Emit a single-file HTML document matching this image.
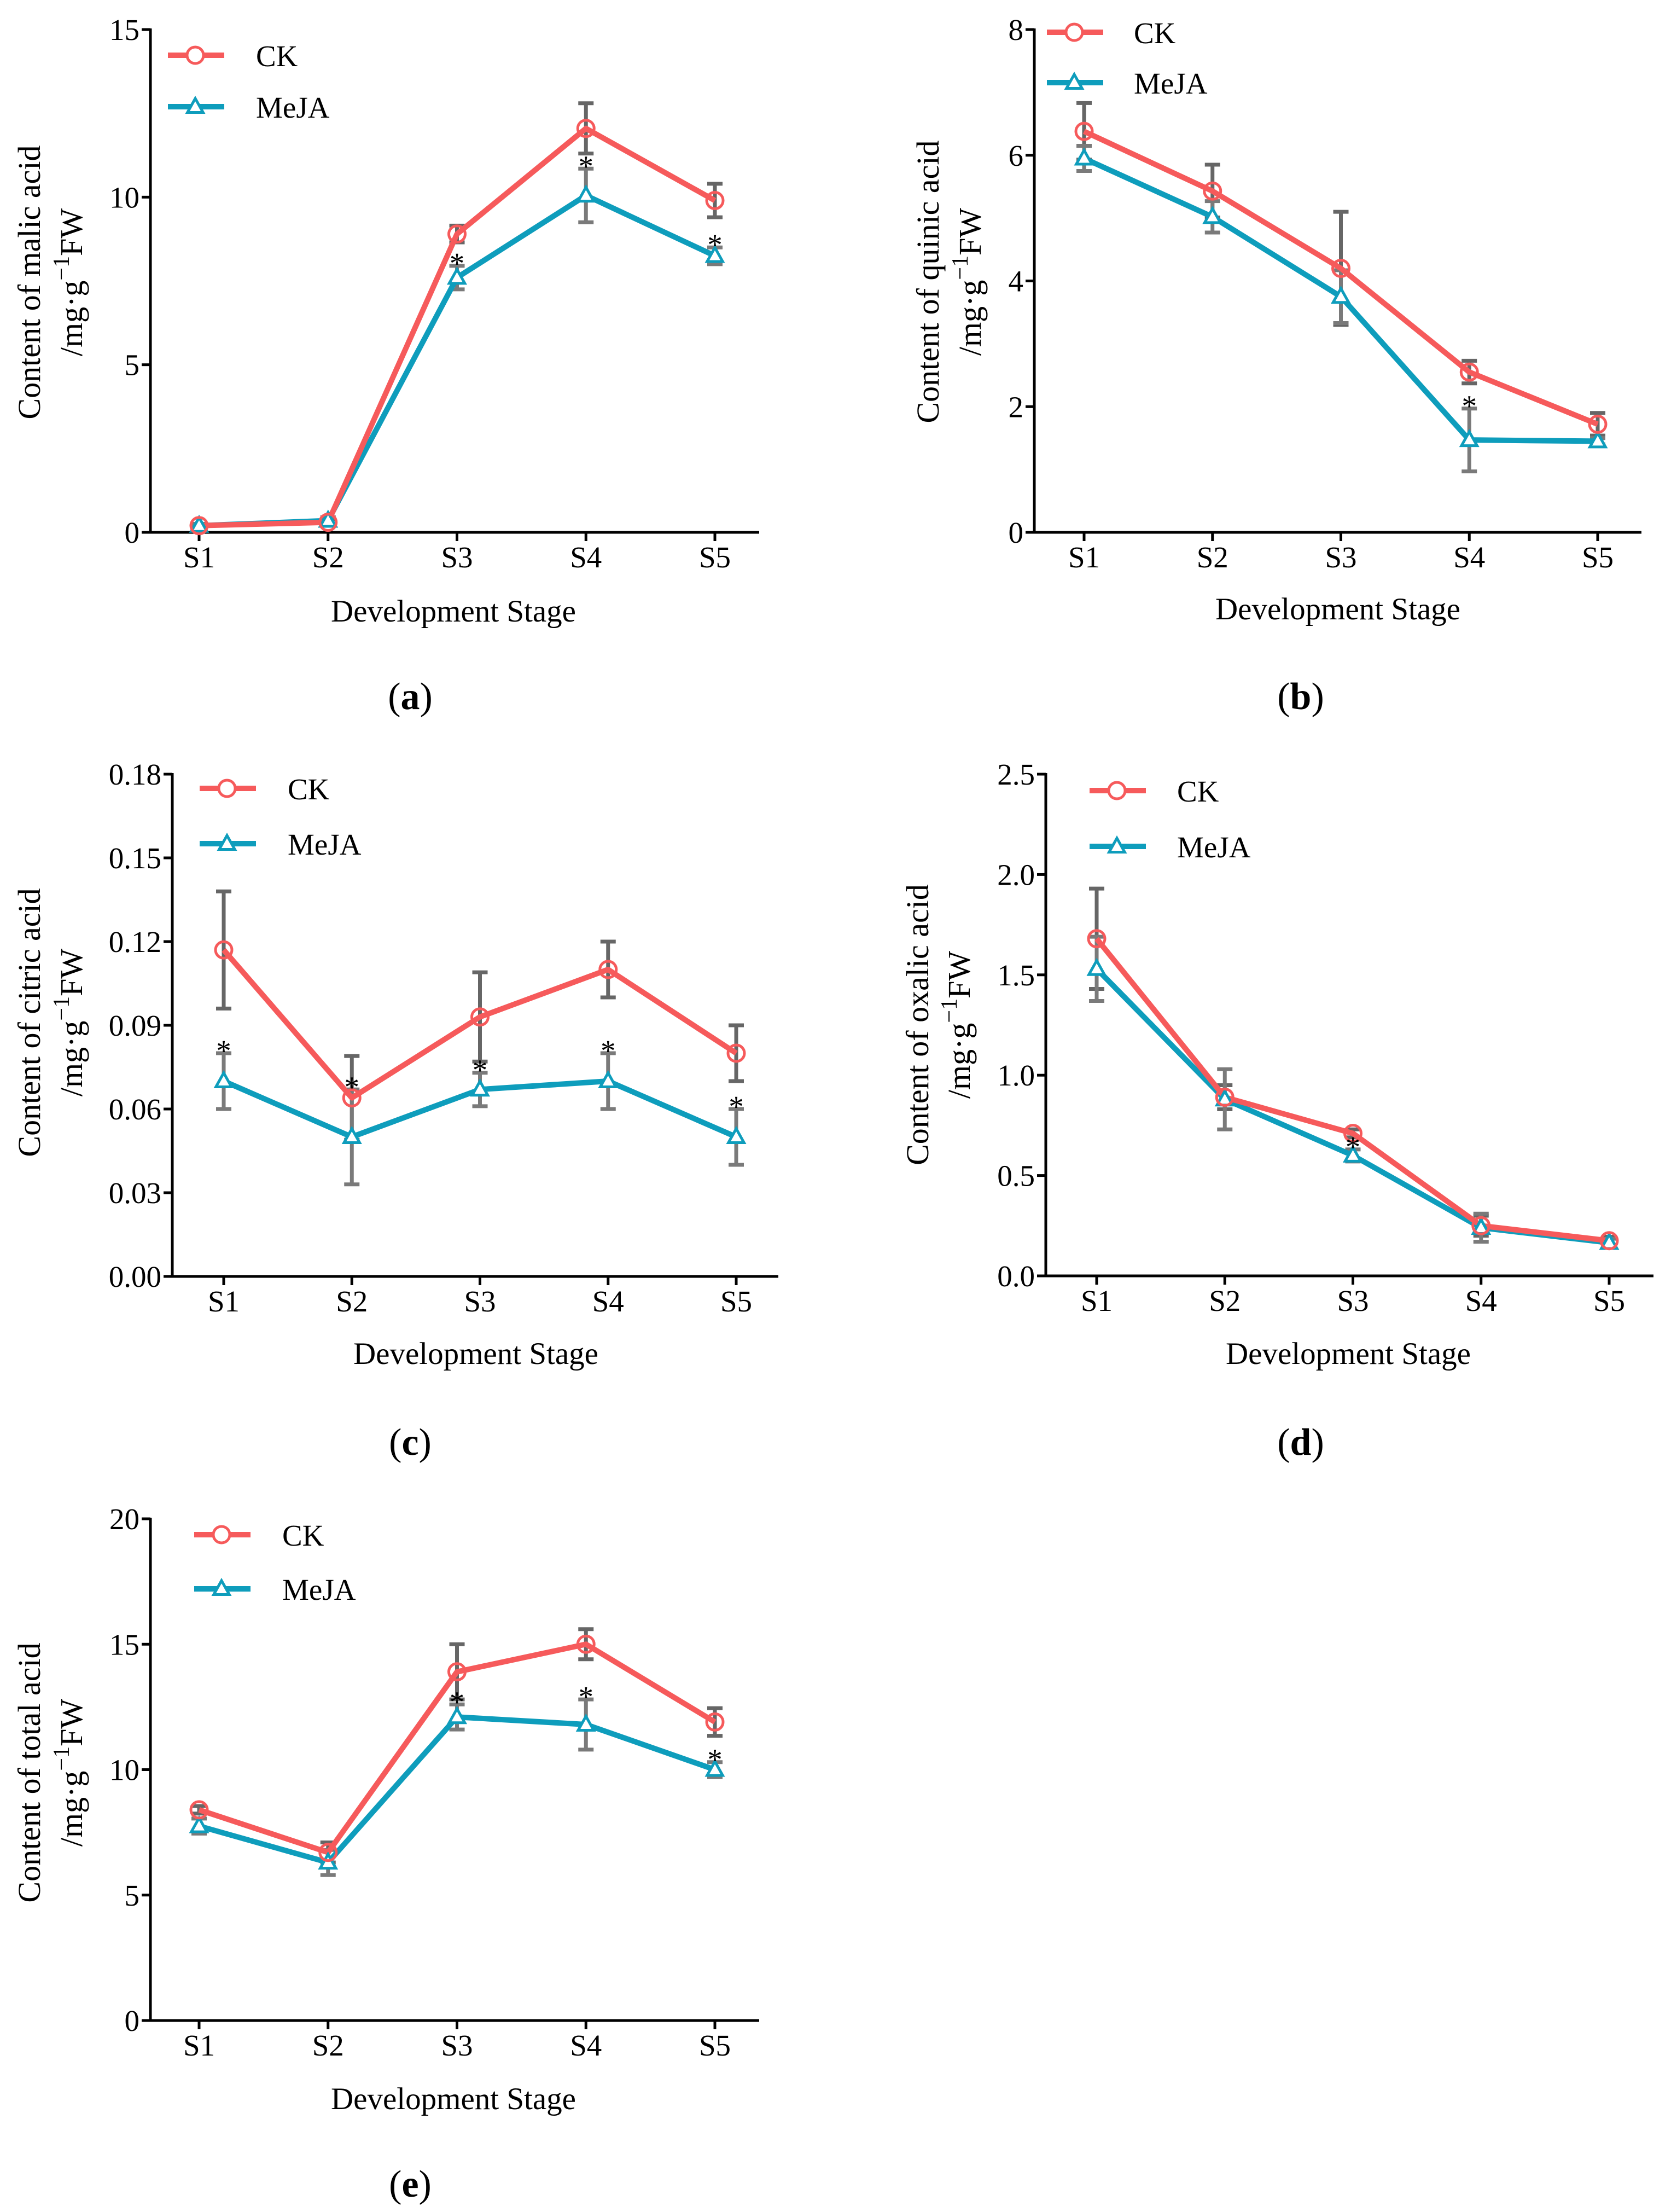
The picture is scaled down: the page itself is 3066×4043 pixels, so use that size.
<!DOCTYPE html>
<html><head><meta charset="utf-8"><style>
html,body{margin:0;padding:0;background:#fff}
svg{display:block}
text{font-family:"Liberation Serif",serif;fill:#000}
</style></head><body>
<svg id="fig" width="3066" height="4043" viewBox="0 0 3066 4043" xmlns="http://www.w3.org/2000/svg"></svg>
<script>
const stages = ["S1","S2","S3","S4","S5"];
// (a) malic
const malicCK = [0.2, 0.3, 8.9, 12.05, 9.9];
const malicCKErr = [0.05, 0.1, 0.25, 0.75, 0.5];
const malicMe = [0.2, 0.35, 7.6, 10.05, 8.25];
const malicMeErr = [0.05, 0.1, 0.35, 0.8, 0.25];
const malicSig = [0,0,1,1,1];
const malicTicks = ["0","5","10","15"];
// (b) quinic
const quinicCK = [6.38, 5.43, 4.2, 2.55, 1.72];
const quinicCKErr = [0.45, 0.42, 0.9, 0.18, 0.18];
const quinicMe = [5.95, 5.02, 3.75, 1.47, 1.45];
const quinicMeErr = [0.2, 0.25, 0.42, 0.5, 0.05];
const quinicSig = [0,0,0,1,0];
const quinicTicks = ["0","2","4","6","8"];
// (c) citric
const citricCK = [0.117, 0.064, 0.093, 0.110, 0.080];
const citricCKErr = [0.021, 0.015, 0.016, 0.010, 0.010];
const citricMe = [0.070, 0.050, 0.067, 0.070, 0.050];
const citricMeErr = [0.010, 0.017, 0.006, 0.010, 0.010];
const citricSig = [1,1,1,1,1];
const citricTicks = ["0.00","0.03","0.06","0.09","0.12","0.15","0.18"];
// (d) oxalic
const oxalicCK = [1.68, 0.89, 0.71, 0.25, 0.175];
const oxalicCKErr = [0.25, 0.06, 0.02, 0.05, 0.02];
const oxalicMe = [1.53, 0.88, 0.60, 0.24, 0.165];
const oxalicMeErr = [0.16, 0.15, 0.03, 0.07, 0.02];
const oxalicSig = [0,0,1,0,0];
const oxalicTicks = ["0.0","0.5","1.0","1.5","2.0","2.5"];
// (e) total
const totalCK = [8.4, 6.7, 13.9, 15.0, 11.9];
const totalCKErr = [0.15, 0.4, 1.1, 0.6, 0.55];
const totalMe = [7.75, 6.3, 12.1, 11.8, 10.0];
const totalMeErr = [0.3, 0.5, 0.5, 1.0, 0.3];
const totalSig = [0,0,1,1,1];
const totalTicks = ["0","5","10","15","20"];

const NS="http://www.w3.org/2000/svg";
const svg=document.getElementById('fig');
const CKC="#F65A5B", MEC="#0E9DBC", ERC="#666666";
function mk(tag,attrs,parent){const e=document.createElementNS(NS,tag);for(const k in attrs)e.setAttribute(k,attrs[k]);(parent||svg).appendChild(e);return e;}

const panels=[
 {id:"malic",title:"Content of malic acid",ck:malicCK,ckE:malicCKErr,me:malicMe,meE:malicMeErr,sig:malicSig,ticks:malicTicks,
  ax:275,top:54,bot:973,s1:364,s5:1307,end:1388,lgX:307,lgY:101,lgY2:195,lgT:468,yl1:53,yl2:130,ylc:516,dsx:829,dsy:1116,lab:"a",labx:750,laby:1272},
 {id:"quinic",title:"Content of quinic acid",ck:quinicCK,ckE:quinicCKErr,me:quinicMe,meE:quinicMeErr,sig:quinicSig,ticks:quinicTicks,
  ax:1891,top:54,bot:973,s1:1982,s5:2921,end:3001,lgX:1914,lgY:59,lgY2:151,lgT:2073,yl1:1696,yl2:1773,ylc:515,dsx:2446,dsy:1112,lab:"b",labx:2378,laby:1272},
 {id:"citric",title:"Content of citric acid",ck:citricCK,ckE:citricCKErr,me:citricMe,meE:citricMeErr,sig:citricSig,ticks:citricTicks,
  ax:315,top:1415,bot:2333,s1:409,s5:1346,end:1423,lgX:365,lgY:1441,lgY2:1542,lgT:526,yl1:53,yl2:130,ylc:1869,dsx:870,dsy:2473,lab:"c",labx:750,laby:2635},
 {id:"oxalic",title:"Content of oxalic acid",ck:oxalicCK,ckE:oxalicCKErr,me:oxalicMe,meE:oxalicMeErr,sig:oxalicSig,ticks:oxalicTicks,
  ax:1912,top:1415,bot:2332,s1:2005,s5:2942,end:3023,lgX:1992,lgY:1445,lgY2:1547,lgT:2152,yl1:1677,yl2:1753,ylc:1873,dsx:2465,dsy:2473,lab:"d",labx:2378,laby:2635},
 {id:"total",title:"Content of total acid",ck:totalCK,ckE:totalCKErr,me:totalMe,meE:totalMeErr,sig:totalSig,ticks:totalTicks,
  ax:275,top:2776,bot:3693,s1:364,s5:1307,end:1388,lgX:355,lgY:2805,lgY2:2904,lgT:516,yl1:53,yl2:130,ylc:3240,dsx:829,dsy:3835,lab:"e",labx:750,laby:3991}
];

function triPts(x,y,r){return `${x},${y-r} ${x-r*0.95},${y+r*0.7} ${x+r*0.95},${y+r*0.7}`;}

panels.forEach(p=>{
  const g=mk('g',{});
  
  
  const ymax=parseFloat(p.ticks[p.ticks.length-1]);
  const Y=v=>p.bot-(v/ymax)*(p.bot-p.top);
  const X=i=>p.s1+i*(p.s5-p.s1)/(stages.length-1);
  const ya=mk('line',{x1:p.ax,y1:p.top-2,x2:p.ax,y2:p.bot+2,stroke:"#000","stroke-width":5},g);
  
  const xa=mk('line',{x1:p.ax-2,y1:p.bot,x2:p.end,y2:p.bot,stroke:"#000","stroke-width":5},g);
  
  p.ticks.forEach(t=>{
    const y=Y(parseFloat(t));
    mk('line',{x1:p.ax-16,y1:y,x2:p.ax,y2:y,stroke:"#000","stroke-width":5},g);
    const tx=mk('text',{x:p.ax-20,y:y+19,"font-size":55,"text-anchor":"end"},g);
    tx.textContent=t;
    
  });
  stages.forEach((s,i)=>{
    mk('line',{x1:X(i),y1:p.bot,x2:X(i),y2:p.bot+16,stroke:"#000","stroke-width":5},g);
    const tx=mk('text',{x:X(i),y:p.bot+64,"font-size":55,"text-anchor":"middle"},g);
    tx.textContent=s;
    
  });
  const ds=mk('text',{x:p.dsx,y:p.dsy+20,"font-size":57,"text-anchor":"middle"},g);
  ds.textContent="Development Stage";
  
  const t1=mk('text',{x:0,y:0,"font-size":58,"text-anchor":"middle",transform:`translate(${p.yl1+20},${p.ylc}) rotate(-90)`},g);
  t1.textContent=p.title;
  
  const t2=mk('text',{x:0,y:0,"font-size":58,"text-anchor":"middle",transform:`translate(${p.yl2+20},${p.ylc}) rotate(-90)`},g);
  t2.innerHTML='/mg·g<tspan dy="-24" font-size="42">−1</tspan><tspan dy="24">FW</tspan>';
  
  function err(vals,errs,col){
    vals.forEach((v,i)=>{
      const x=X(i),y1=Y(v+errs[i]),y2=Y(v-errs[i]);
      const e=mk('path',{d:`M${x},${y1}V${y2}M${x-14},${y1}H${x+14}M${x-14},${y2}H${x+14}`,stroke:col,"stroke-width":7,fill:"none"},g);
      
    });
  }
  err(p.ck,p.ckE,ERC);
  err(p.me,p.meE,"#7a7a7a");
  const meL=mk('polyline',{points:p.me.map((v,i)=>X(i)+","+Y(v)).join(" "),stroke:MEC,"stroke-width":10,fill:"none","stroke-linejoin":"round"},g);
  
  const ckL=mk('polyline',{points:p.ck.map((v,i)=>X(i)+","+Y(v)).join(" "),stroke:CKC,"stroke-width":10,fill:"none","stroke-linejoin":"round"},g);
  
  p.me.forEach((v,i)=>{
    const m=mk('polygon',{points:triPts(X(i),Y(v),15),fill:"#fff",stroke:MEC,"stroke-width":5},g);
    
  });
  p.ck.forEach((v,i)=>{
    const m=mk('circle',{cx:X(i),cy:Y(v),r:15,fill:"none",stroke:CKC,"stroke-width":5},g);
    
  });
  p.sig.forEach((s,i)=>{
    if(!s)return;
    const a=mk('text',{x:X(i),y:Y(p.me[i]+p.meE[i])+14,"font-size":55,"text-anchor":"middle"},g);
    a.textContent="*";
    
  });
  const l1=mk('line',{x1:p.lgX,y1:p.lgY,x2:p.lgX+103,y2:p.lgY,stroke:CKC,"stroke-width":10},g);
  
  mk('circle',{cx:p.lgX+50,cy:p.lgY,r:15,fill:"#fff",stroke:CKC,"stroke-width":5},g);
  const lt1=mk('text',{x:p.lgT,y:p.lgY+20,"font-size":55},g);lt1.textContent="CK";
  
  const l2=mk('line',{x1:p.lgX,y1:p.lgY2,x2:p.lgX+103,y2:p.lgY2,stroke:MEC,"stroke-width":10},g);
  
  mk('polygon',{points:triPts(p.lgX+50,p.lgY2,15),fill:"#fff",stroke:MEC,"stroke-width":5},g);
  const lt2=mk('text',{x:p.lgT,y:p.lgY2+20,"font-size":55},g);lt2.textContent="MeJA";
  
  const lb=mk('text',{x:p.labx,y:p.laby+24,"font-size":70,"text-anchor":"middle"},g);
  lb.innerHTML='(<tspan font-weight="bold">'+p.lab+'</tspan>)';
  
});
</script>
</body></html>
